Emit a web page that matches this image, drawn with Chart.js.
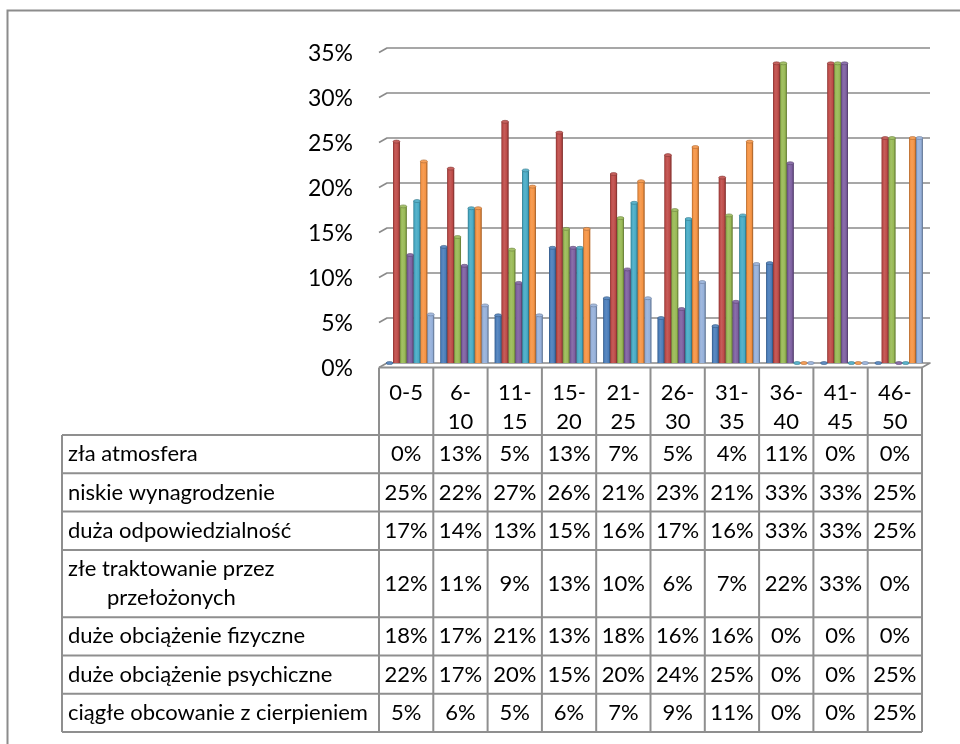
<!DOCTYPE html>
<html>
<head>
<meta charset="utf-8">
<script src="https://cdn.jsdelivr.net/npm/chart.js@4.4.1/dist/chart.umd.min.js"></script>
<style>
  html, body { margin: 0; padding: 0; background: #fff; }
  #wrap { width: 960px; height: 744px; position: relative; }
</style>
</head>
<body>
<div id="wrap"><canvas id="chart"></canvas></div>
<script>
// Years of work (categories) and share of answers per reason, in percent
const categories = ['0-5', '6-10', '11-15', '15-20', '21-25', '26-30', '31-35', '36-40', '41-45', '46-50'];

const zlaAtmosfera         = [0, 12.9, 5.3, 12.8, 7.2, 5.0, 4.1, 11.1, 0, 0];
const niskieWynagrodzenie  = [24.6, 21.6, 26.8, 25.6, 21.0, 23.1, 20.6, 33.3, 33.3, 25.0];
const duzaOdpowiedzialnosc = [17.4, 14.0, 12.6, 14.9, 16.1, 17.0, 16.4, 33.3, 33.3, 25.0];
const zleTraktowanie       = [12.0, 10.8, 8.9, 12.8, 10.4, 6.0, 6.8, 22.2, 33.3, 0];
const obciazenieFizyczne   = [18.0, 17.2, 21.4, 12.8, 17.8, 16.0, 16.4, 0, 0, 0];
const obciazeniePsychiczne = [22.4, 17.2, 19.6, 14.9, 20.2, 24.0, 24.6, 0, 0, 25.0];
const obcowanieCierpienie  = [5.4, 6.4, 5.3, 6.4, 7.2, 9.0, 11.0, 0, 0, 25.0];

// Row labels of the data table (one entry per text line)
const seriesLabels = [
  ['zła atmosfera'],
  ['niskie wynagrodzenie'],
  ['duża odpowiedzialność'],
  ['złe traktowanie przez', 'przełożonych'],
  ['duże obciążenie fizyczne'],
  ['duże obciążenie psychiczne'],
  ['ciągłe obcowanie z cierpieniem']
];
const seriesValues = [zlaAtmosfera, niskieWynagrodzenie, duzaOdpowiedzialnosc, zleTraktowanie,
                      obciazenieFizyczne, obciazeniePsychiczne, obcowanieCierpienie];

const yTicks = [0, 5, 10, 15, 20, 25, 30, 35];

// ---- styling ----
const FONT = 'Lato, "Open Sans", sans-serif';
const palette = ['#4A7DBA', '#BE4B48', '#98B954', '#7D5FA0', '#46AAC5', '#F59343', '#95B0DA'];
const GRID = '#8a8a8a';
const TABLE_LINE = '#8f8f8f';
const DX = 4, DY = 4.5;          // depth offset of the 3-D floor / back wall
const TABLE_LEFT = 62;
const HEADER_BOTTOM = 435;
const ROW_H = 38.3, EXTRA_LINE_H = 29;
const TABLE_FONT = 22;

function shade(hex, f) {
  const n = parseInt(hex.slice(1), 16);
  const r = (n >> 16) & 255, g = (n >> 8) & 255, b = n & 255;
  const m = c => Math.round(f >= 0 ? c + (255 - c) * f : c * (1 + f));
  return `rgb(${m(r)},${m(g)},${m(b)})`;
}

// Back-wall gridlines with a short slanted segment toward the viewer
const wallGrid = {
  id: 'wallGrid',
  beforeDraw(chart) {
    const { ctx } = chart;
    ctx.save();
    // outer chart frame (left and top edges)
    ctx.strokeStyle = '#8c8c8c';
    ctx.lineWidth = 2;
    ctx.beginPath();
    ctx.moveTo(7.5, 744);
    ctx.lineTo(7.5, 10.5);
    ctx.lineTo(960, 10.5);
    ctx.stroke();
    ctx.restore();
  },
  beforeDatasetsDraw(chart) {
    const { ctx, chartArea: a, scales: { y } } = chart;
    ctx.save();
    ctx.strokeStyle = GRID;
    ctx.lineWidth = 1.6;
    ctx.lineJoin = 'round';
    y.ticks.forEach(t => {
      const py = y.getPixelForValue(t.value);
      ctx.beginPath();
      ctx.moveTo(a.left - DX, py + DY);
      ctx.lineTo(a.left + DX, py);
      ctx.lineTo(a.right + DX, py);
      if (t.value === 0) ctx.lineTo(a.right - DX, py + DY);
      ctx.stroke();
    });
    ctx.restore();
  },
  // cylinder-like shading and top caps on each column
  afterDatasetsDraw(chart) {
    const { ctx } = chart;
    ctx.save();
    chart.data.datasets.forEach((ds, di) => {
      const meta = chart.getDatasetMeta(di);
      meta.data.forEach(bar => {
        const { x, y, base, width } = bar.getProps(['x', 'y', 'base', 'width'], true);
        const l = x - width / 2;
        if (base - y > 0.5) {
          const g = ctx.createLinearGradient(l, 0, l + width, 0);
          g.addColorStop(0, shade(palette[di], -0.35));
          g.addColorStop(0.16, palette[di]);
          g.addColorStop(0.4, shade(palette[di], 0.1));
          g.addColorStop(0.75, palette[di]);
          g.addColorStop(1, shade(palette[di], -0.4));
          ctx.fillStyle = g;
          ctx.fillRect(l, y, width, base - y);
        }
        ctx.beginPath();
        ctx.ellipse(x, y, width / 2, 1.5, 0, 0, Math.PI * 2);
        ctx.fillStyle = shade(palette[di], 0.12);
        ctx.fill();
        ctx.lineWidth = 0.6;
        ctx.strokeStyle = shade(palette[di], -0.3);
        ctx.stroke();
      });
    });
    ctx.restore();
  },
  // data table under the plot, aligned with the category scale
  afterDraw(chart) {
    const { ctx, scales: { x, y } } = chart;
    const colW = x.getPixelForValue(1) - x.getPixelForValue(0);
    const floorY = y.getPixelForValue(0) + DY;
    const colEdge = i => x.getPixelForValue(0) - colW / 2 - DX + i * colW;
    const right = colEdge(categories.length);

    // row boundaries
    const rowTops = [HEADER_BOTTOM];
    seriesLabels.forEach(lines => {
      rowTops.push(rowTops[rowTops.length - 1] + ROW_H + (lines.length - 1) * EXTRA_LINE_H);
    });
    const bottom = rowTops[rowTops.length - 1];

    ctx.save();
    ctx.strokeStyle = TABLE_LINE;
    ctx.lineWidth = 2;
    ctx.beginPath();
    // header top (front edge of the floor)
    ctx.moveTo(colEdge(0), floorY);
    ctx.lineTo(right, floorY);
    // column separators
    for (let i = 0; i <= categories.length; i++) {
      ctx.moveTo(colEdge(i), floorY);
      ctx.lineTo(colEdge(i), bottom);
    }
    // horizontal rules
    rowTops.forEach(t => {
      ctx.moveTo(TABLE_LEFT, t);
      ctx.lineTo(right, t);
    });
    ctx.moveTo(TABLE_LEFT, HEADER_BOTTOM);
    ctx.lineTo(TABLE_LEFT, bottom);
    ctx.stroke();

    ctx.fillStyle = '#000';
    ctx.textBaseline = 'middle';
    ctx.font = `${TABLE_FONT}px ${FONT}`;

    // category headers, wrapped after the hyphen when too wide
    ctx.textAlign = 'center';
    categories.forEach((c, i) => {
      const cx = colEdge(i) + colW / 2;
      if (ctx.measureText(c).width > colW - 10) {
        const k = c.indexOf('-') + 1;
        ctx.fillText(c.slice(0, k), cx, 393);
        ctx.fillText(c.slice(k), cx, 421.5);
      } else {
        ctx.fillText(c, cx, 393);
      }
    });

    // rows
    seriesLabels.forEach((lines, r) => {
      const top = rowTops[r], bot = rowTops[r + 1];
      const mid = (top + bot) / 2;
      ctx.textAlign = 'left';
      if (lines.length === 1) {
        ctx.fillText(lines[0], TABLE_LEFT + 6, mid);
      } else {
        ctx.fillText(lines[0], TABLE_LEFT + 6, mid - 14.5);
        ctx.fillText(lines[1], TABLE_LEFT + 45, mid + 14.5);
      }
      ctx.textAlign = 'center';
      seriesValues[r].forEach((v, i) => {
        ctx.fillText(Math.round(v) + '%', colEdge(i) + colW / 2, mid);
      });
    });
    ctx.restore();
  }
};

Chart.defaults.font.family = FONT;

new Chart(document.getElementById('chart'), {
  type: 'bar',
  data: {
    labels: categories,
    datasets: seriesValues.map((vals, i) => ({
      label: seriesLabels[i].join(' '),
      data: vals,
      backgroundColor: palette[i],
      borderWidth: 0,
      barPercentage: 1.0,
      categoryPercentage: 0.884
    }))
  },
  options: {
    responsive: true,
    maintainAspectRatio: false,
    animation: false,
    layout: { padding: { left: 0, top: 48, right: 34, bottom: 381 } },
    plugins: { legend: { display: false }, tooltip: { enabled: false } },
    scales: {
      x: { display: false },
      y: {
        min: 0,
        max: 35,
        afterBuildTicks: s => { s.ticks = yTicks.map(v => ({ value: v })); },
        afterFit: s => { s.width = 383; },
        grid: { display: false, drawTicks: false },
        border: { display: false },
        ticks: {
          padding: 30,
          labelOffset: 6,
          color: '#000',
          font: { size: 23 },
          callback: v => v + '%'
        }
      }
    }
  },
  plugins: [wallGrid]
});
</script>
</body>
</html>
